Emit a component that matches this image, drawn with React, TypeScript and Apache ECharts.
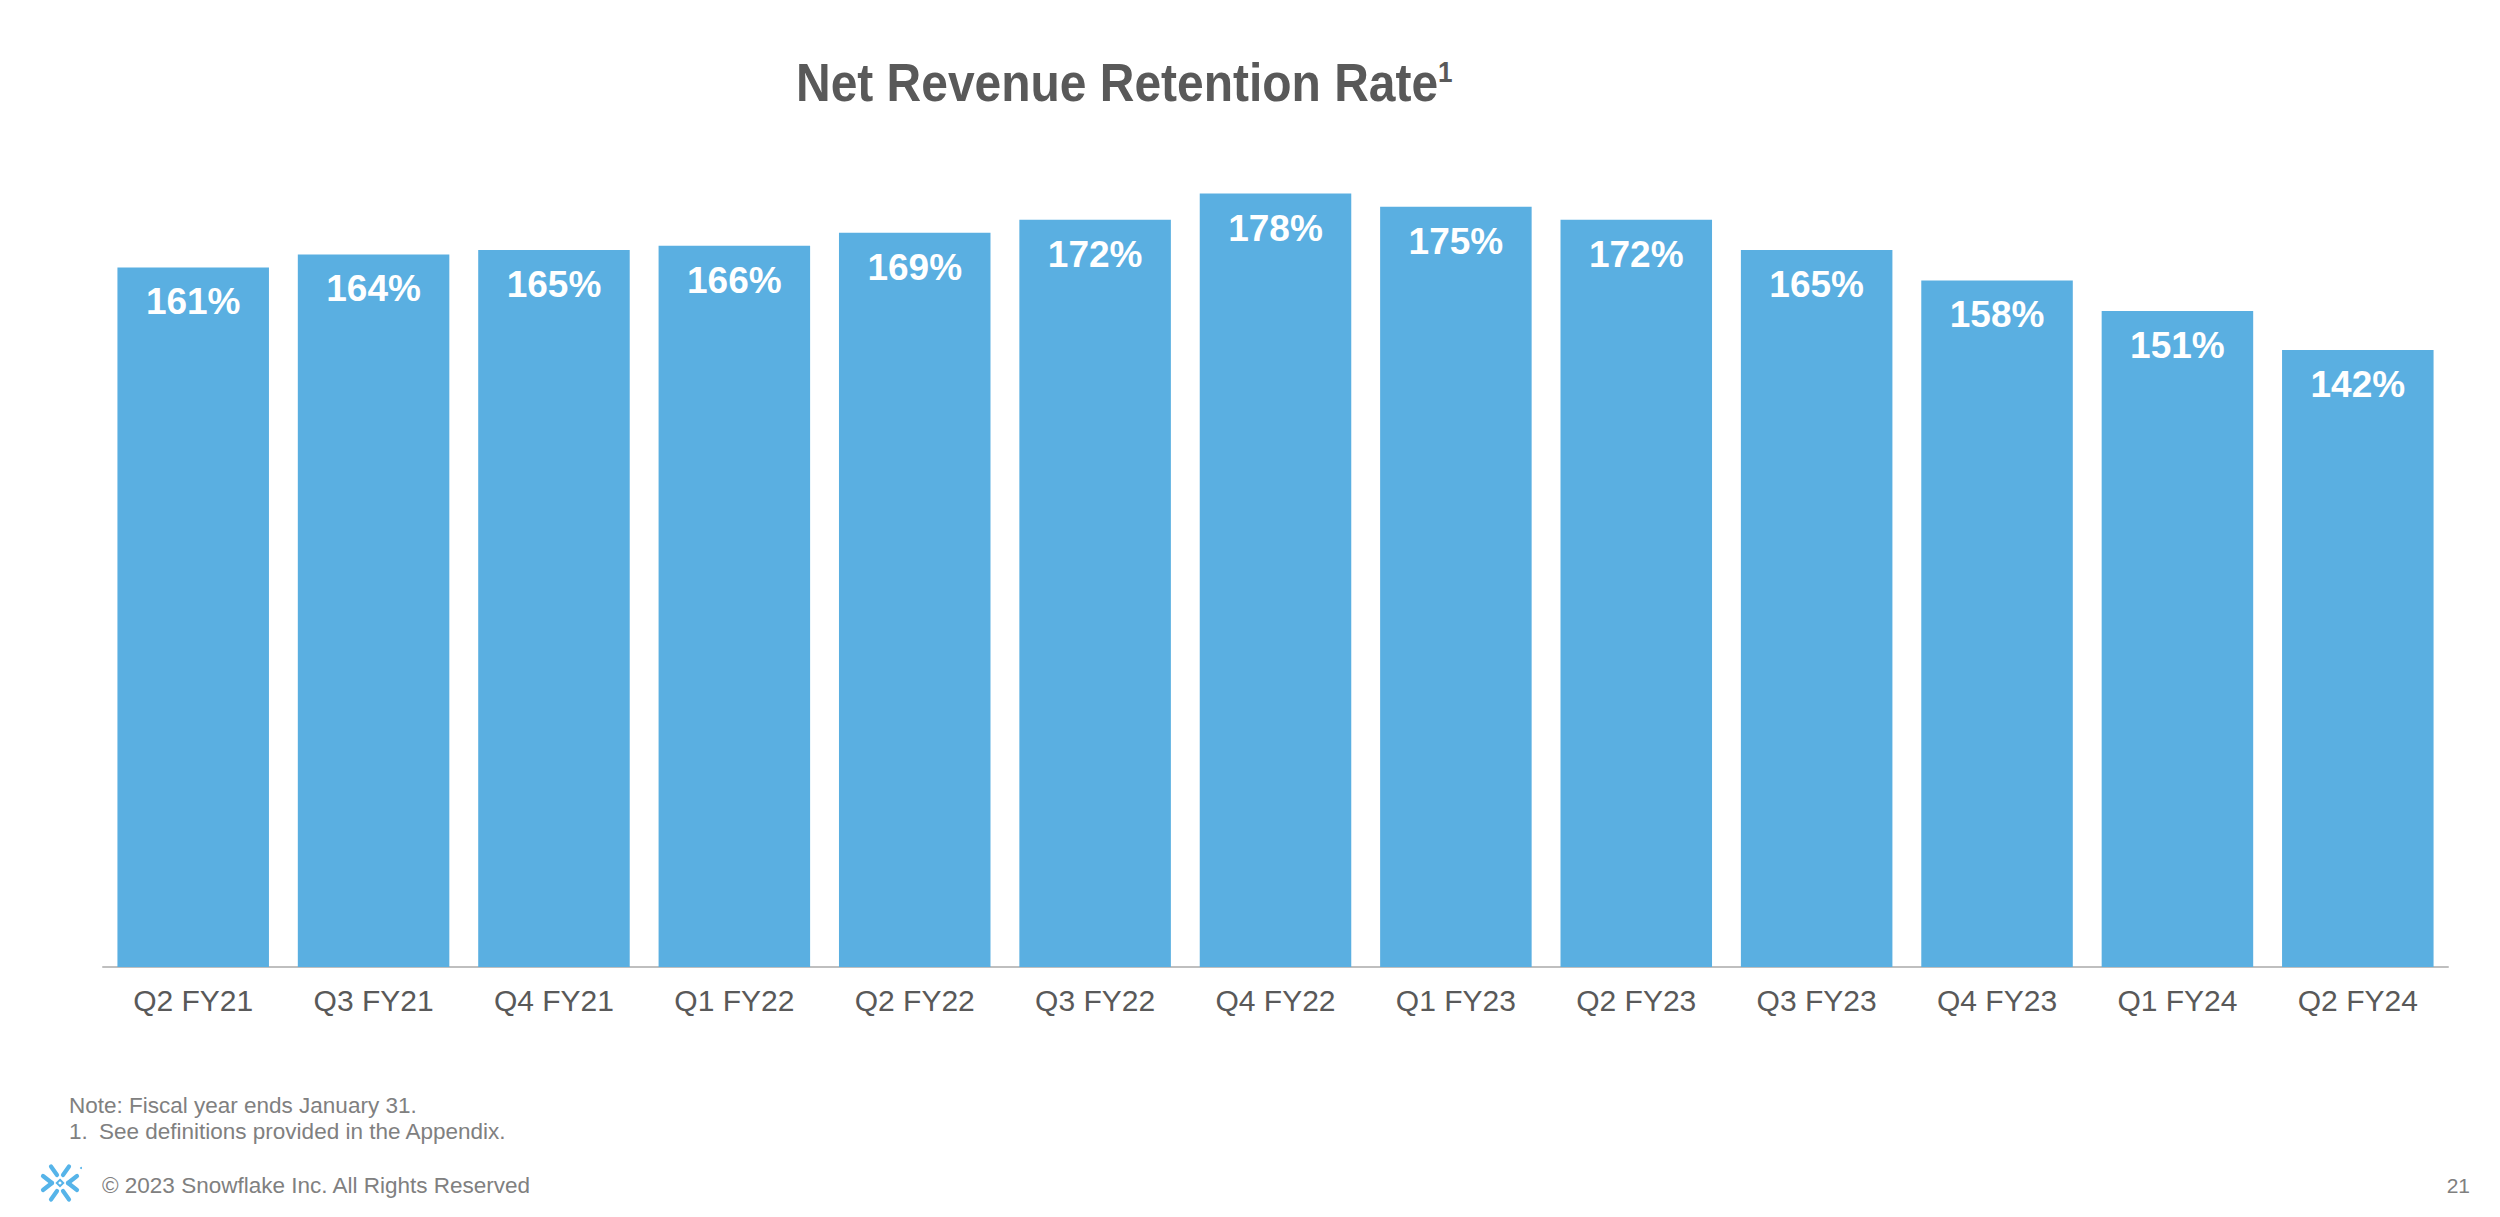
import React, { useEffect, useRef } from "react";
import * as echarts from "echarts";

const categories = [
  "Q2 FY21", "Q3 FY21", "Q4 FY21", "Q1 FY22", "Q2 FY22", "Q3 FY22", "Q4 FY22",
  "Q1 FY23", "Q2 FY23", "Q3 FY23", "Q4 FY23", "Q1 FY24", "Q2 FY24",
];
const values = [161, 164, 165, 166, 169, 172, 178, 175, 172, 165, 158, 151, 142];

const titleText = "Net Revenue Retention Rate";
const titleSup = "1";
const noteLine = "Note: Fiscal year ends January 31.";
const footNum = "1.";
const footText = "See definitions provided in the Appendix.";
const copyright = "© 2023 Snowflake Inc. All Rights Reserved";
const pageNumber = "21";

const FONT = "'Liberation Sans', Arial, Helvetica, sans-serif";
const BAR = "#5aafe1";
const GREY_TEXT = "#808080";
const LOGO = "#56b4e9";

function seg(x1: number, y1: number, x2: number, y2: number) {
  return {
    type: "line",
    shape: { x1, y1, x2, y2 },
    style: { stroke: LOGO, lineWidth: 4.2, lineCap: "round" },
  };
}

function logoElements(cx: number, cy: number) {
  const els: any[] = [];
  // top V and bottom inverted V (with a gap at the centre)
  [-1, 1].forEach((v) => {
    [-1, 1].forEach((s) => {
      els.push(seg(cx + s * 3, cy + v * 8, cx + s * 9, cy + v * 16.5));
    });
  });
  // left ">" and right "<" chevrons pointing to the centre
  [-1, 1].forEach((h) => {
    [-1, 1].forEach((s) => {
      els.push(seg(cx + h * 8, cy, cx + h * 17, cy + s * 7));
    });
  });
  els.push({
    type: "polygon",
    shape: {
      points: [
        [cx, cy - 3.2],
        [cx + 3.2, cy],
        [cx, cy + 3.2],
        [cx - 3.2, cy],
      ],
    },
    style: { fill: "none", stroke: LOGO, lineWidth: 2 },
  });
  els.push({
    type: "circle",
    shape: { cx: cx + 21, cy: cy - 15, r: 1 },
    style: { fill: LOGO },
  });
  return els;
}

export default function App() {
  const ref = useRef<HTMLDivElement>(null);

  useEffect(() => {
    if (!ref.current) return;
    const chart = echarts.init(ref.current, undefined, { renderer: "svg" });
    chart.setOption({
      animation: false,
      backgroundColor: "#ffffff",
      grid: { left: 103, right: 52, top: 98, bottom: 250, containLabel: false },
      xAxis: {
        type: "category",
        data: categories,
        axisLine: { show: true, lineStyle: { color: "#bfbfbf", width: 2 } },
        axisTick: { show: false },
        axisLabel: {
          color: "#595959",
          fontSize: 30,
          fontFamily: FONT,
          margin: 18,
          interval: 0,
        },
      },
      yAxis: {
        type: "value",
        min: 0,
        max: 200,
        show: false,
        splitLine: { show: false },
      },
      series: [
        {
          type: "bar",
          data: values,
          barCategoryGap: "16%",
          itemStyle: { color: BAR },
          label: {
            show: true,
            position: "insideTop",
            distance: 16,
            formatter: "{c}%",
            color: "#ffffff",
            fontSize: 37,
            fontWeight: "bold",
            fontFamily: FONT,
          },
        },
      ],
      graphic: [
        {
          type: "text",
          x: 796,
          y: 82.5,
          scaleX: 0.905,
          style: {
            text: titleText,
            fill: "#595959",
            fontSize: 53,
            fontWeight: "bold",
            fontFamily: FONT,
            align: "left",
            verticalAlign: "middle",
          },
        },
        {
          type: "text",
          x: 1438,
          y: 72.5,
          scaleX: 0.9,
          style: {
            text: titleSup,
            fill: "#595959",
            fontSize: 29,
            fontWeight: "bold",
            fontFamily: FONT,
            align: "left",
            verticalAlign: "middle",
          },
        },
        {
          type: "text",
          x: 69,
          y: 1105,
          style: {
            text: noteLine,
            fill: GREY_TEXT,
            fontSize: 22.5,
            fontFamily: FONT,
            align: "left",
            verticalAlign: "middle",
          },
        },
        {
          type: "text",
          x: 69,
          y: 1131,
          style: {
            text: footNum,
            fill: GREY_TEXT,
            fontSize: 22.5,
            fontFamily: FONT,
            align: "left",
            verticalAlign: "middle",
          },
        },
        {
          type: "text",
          x: 99,
          y: 1131,
          style: {
            text: footText,
            fill: GREY_TEXT,
            fontSize: 22.5,
            fontFamily: FONT,
            align: "left",
            verticalAlign: "middle",
          },
        },
        {
          type: "text",
          x: 102,
          y: 1185,
          style: {
            text: copyright,
            fill: GREY_TEXT,
            fontSize: 22.5,
            fontFamily: FONT,
            align: "left",
            verticalAlign: "middle",
          },
        },
        {
          type: "text",
          x: 2470,
          y: 1185,
          style: {
            text: pageNumber,
            fill: GREY_TEXT,
            fontSize: 21,
            fontFamily: FONT,
            align: "right",
            verticalAlign: "middle",
          },
        },
        ...logoElements(60, 1183),
      ],
    });
    return () => {
      chart.dispose();
    };
  }, []);

  return (
    <div
      ref={ref}
      style={{ position: "absolute", left: 0, top: 0, width: 2500, height: 1217 }}
    />
  );
}
